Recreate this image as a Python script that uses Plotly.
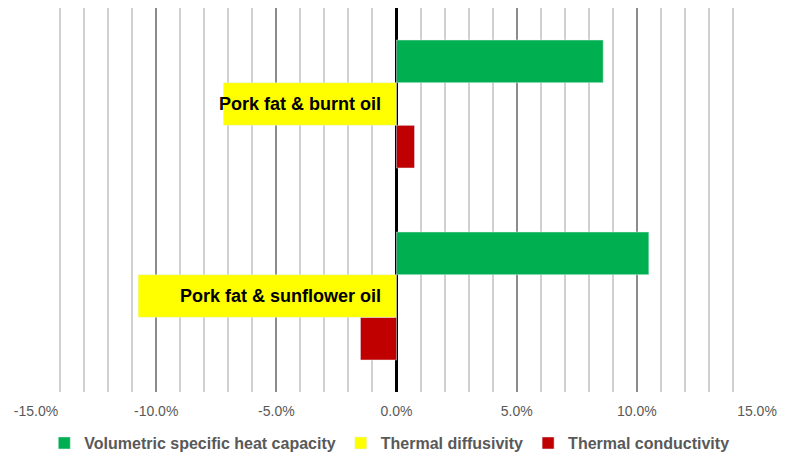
import plotly.graph_objects as go

# Data (percent change)
categories = ['Pork fat & sunflower oil', 'Pork fat & burnt oil']
heat_capacity = [10.5, 8.6]
thermal_diffusivity = [-10.75, -7.2]
thermal_conductivity = [-1.5, 0.75]

tick_values = [-15, -10, -5, 0, 5, 10, 15]
tick_labels = ['-15.0%', '-10.0%', '-5.0%', '0.0%', '5.0%', '10.0%', '15.0%']

GREEN = '#00b050'
YELLOW = '#ffff00'
RED = '#c00000'
FONT = 'Liberation Sans, Arial'

fig = go.Figure()
# plotly stacks horizontal groups bottom-up, so add red first to get green on top
fig.add_trace(go.Bar(y=categories, x=thermal_conductivity, name='Thermal conductivity',
                     orientation='h', marker_color=RED, legendrank=3))
fig.add_trace(go.Bar(y=categories, x=thermal_diffusivity, name='Thermal diffusivity',
                     orientation='h', marker_color=YELLOW, legendrank=2))
fig.add_trace(go.Bar(y=categories, x=heat_capacity, name='Volumetric specific heat capacity',
                     orientation='h', marker_color=GREEN, legendrank=1))

# category labels sit next to the zero line, inside the plot
for cat in categories:
    fig.add_annotation(x=0, y=cat, text='<b>%s</b>' % cat, showarrow=False,
                       xanchor='right', yanchor='middle', xshift=-14,
                       font=dict(family=FONT, size=18, color='#000000'))

# the page body adds an 8px offset, so margins are shifted to compensate
fig.update_layout(
    width=792, height=459,
    margin=dict(l=28, r=43, t=0, b=75, autoexpand=False),
    barmode='group', bargap=1 / 3, bargroupgap=0,
    plot_bgcolor='white', paper_bgcolor='white',
    font=dict(family=FONT, color='#595959'),
    showlegend=True,
    legend=dict(orientation='h', x=0.49, xanchor='center', y=-0.133, yanchor='middle',
                font=dict(size=16, color='#595959', weight='bold'), itemwidth=30,
                tracegroupgap=0),
    xaxis=dict(
        range=[-15, 15], tickvals=tick_values, ticktext=tick_labels,
        tickfont=dict(size=14, color='#595959'),
        ticks='outside', ticklen=6, tickcolor='rgba(0,0,0,0)',
        showgrid=True, gridcolor='#8c8c8c', gridwidth=1.5,
        minor=dict(dtick=1, showgrid=True, gridcolor='#d0d0d0', gridwidth=1.5),
        zeroline=True, zerolinecolor='#000000', zerolinewidth=3,
        showline=False, automargin=False, fixedrange=True,
    ),
    yaxis=dict(showticklabels=False, showgrid=False, zeroline=False, showline=False,
               automargin=False),
)

fig.write_html('out.html')
